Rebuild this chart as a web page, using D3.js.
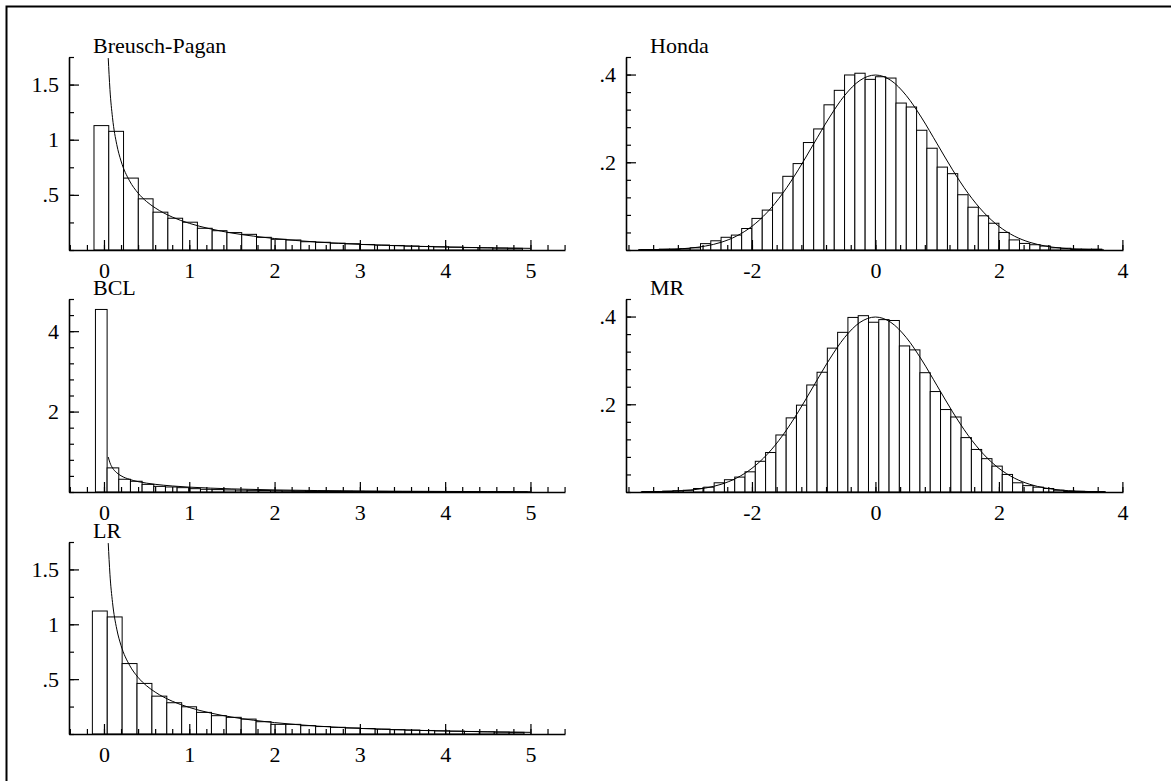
<!DOCTYPE html>
<html>
<head>
<meta charset="utf-8">
<script src="https://cdn.jsdelivr.net/npm/d3@7/dist/d3.min.js"></script>
<style>
  body { margin: 0; background: #fff; }
  svg { display: block; }
  text { font-family: "Liberation Serif", "Times New Roman", serif; font-size: 22px; fill: #000; }
</style>
</head>
<body>
<svg id="chart" width="1171" height="781"></svg>
<script>
// ---- data ----
// left column: histograms on [start + i*width, start + (i+1)*width]
var bpStart = -0.117, bpWidth = 0.1732;
var bpHeights = [1.128, 1.076, 0.652, 0.464, 0.343, 0.288, 0.252, 0.197, 0.175, 0.158,
                 0.142, 0.115, 0.097, 0.091, 0.075, 0.070, 0.062, 0.057, 0.050, 0.045,
                 0.041, 0.036, 0.032, 0.029, 0.026, 0.022, 0.020, 0.017, 0.015];

var bclStart = -0.1, bclWidth = 0.1368;
var bclHeights = [4.54, 0.60, 0.317, 0.267, 0.190, 0.140, 0.125, 0.108, 0.083, 0.067,
                  0.060, 0.052, 0.046, 0.041, 0.037, 0.033, 0.030, 0.027, 0.024, 0.022,
                  0.020, 0.018, 0.016, 0.014, 0.013, 0.012, 0.011, 0.010, 0.009, 0.008,
                  0.007, 0.006, 0.006, 0.005, 0.005, 0.004, 0.004];

var lrStart = -0.136, lrWidth = 0.1745;
var lrHeights = [1.121, 1.067, 0.642, 0.461, 0.345, 0.285, 0.248, 0.197, 0.167, 0.152,
                 0.136, 0.112, 0.088, 0.088, 0.076, 0.068, 0.061, 0.055, 0.050, 0.045,
                 0.040, 0.036, 0.032, 0.029, 0.026, 0.023, 0.020, 0.017, 0.015];

// right column
var hondaStart = -23 / 6, hondaWidth = 1 / 6;
var hondaHeights = [0.001, 0.001, 0.002, 0.002, 0.003, 0.005, 0.0145, 0.021, 0.029, 0.034,
                    0.049, 0.072, 0.091, 0.130, 0.168, 0.197, 0.245, 0.276, 0.331, 0.364,
                    0.399, 0.403, 0.389, 0.395, 0.392, 0.335, 0.326, 0.273, 0.232, 0.189,
                    0.174, 0.126, 0.0975, 0.078, 0.061, 0.040, 0.023, 0.015, 0.012, 0.009,
                    0.005, 0.004, 0.002, 0.002, 0.002];

var mrStart = -3.779, mrWidth = 1 / 6;
var mrHeights = [0.001, 0.001, 0.002, 0.003, 0.004, 0.008, 0.011, 0.021, 0.028, 0.034,
                 0.046, 0.070, 0.090, 0.130, 0.169, 0.198, 0.244, 0.273, 0.328, 0.364,
                 0.398, 0.402, 0.387, 0.393, 0.391, 0.333, 0.324, 0.272, 0.229, 0.188,
                 0.171, 0.124, 0.097, 0.076, 0.059, 0.040, 0.021, 0.0145, 0.011, 0.008,
                 0.004, 0.002, 0.0015, 0.001, 0.001];

// density curves, [x, y] points
var chiCurve = [[0.05, 1.74], [0.07, 1.456], [0.1, 1.20], [0.15, 0.956], [0.2, 0.807],
                [0.3, 0.627], [0.4, 0.516], [0.5, 0.439], [0.6, 0.382], [0.8, 0.299],
                [1.0, 0.242], [1.25, 0.191], [1.5, 0.154], [2.0, 0.104], [2.5, 0.072],
                [3.0, 0.051], [3.5, 0.037], [4.0, 0.027], [4.5, 0.020], [5.0, 0.015]];
var halfChiCurve = [[0.05, 0.87], [0.07, 0.728], [0.1, 0.60], [0.15, 0.478], [0.2, 0.404],
                    [0.3, 0.314], [0.4, 0.258], [0.5, 0.220], [0.6, 0.191], [0.8, 0.150],
                    [1.0, 0.121], [1.25, 0.096], [1.5, 0.077], [2.0, 0.052], [2.5, 0.036],
                    [3.0, 0.026], [3.5, 0.019], [4.0, 0.014], [4.5, 0.010], [5.0, 0.007]];
var normalCurve = [[-3.8, 0.0003], [-3.5, 0.0009], [-3.25, 0.002], [-3.0, 0.0044], [-2.75, 0.0091],
                   [-2.5, 0.0175], [-2.25, 0.0317], [-2.0, 0.054], [-1.75, 0.0863], [-1.5, 0.1295],
                   [-1.25, 0.1827], [-1.0, 0.242], [-0.75, 0.3011], [-0.5, 0.3521], [-0.25, 0.3867],
                   [0, 0.3989], [0.25, 0.3867], [0.5, 0.3521], [0.75, 0.3011], [1.0, 0.242],
                   [1.25, 0.1827], [1.5, 0.1295], [1.75, 0.0863], [2.0, 0.054], [2.25, 0.0317],
                   [2.5, 0.0175], [2.75, 0.0091], [3.0, 0.0044], [3.25, 0.002], [3.5, 0.0009],
                   [3.7, 0.0004]];

// axis ticks
var chiXMajor = [0, 1, 2, 3, 4, 5];
var normXMajor = [-2, 0, 2, 4];
var bpYMajor = [0.5, 1, 1.5];
var bclYMajor = [2, 4];
var normYMajor = [0.2, 0.4];

var svg = d3.select("#chart");

// outer frame
svg.append("rect")
    .attr("x", 6.5).attr("y", 6.5)
    .attr("width", 1200).attr("height", 800)
    .attr("fill", "none").attr("stroke", "#000").attr("stroke-width", 2);

var fmt = function(d){ return String(d).replace(/^0\./, "."); };

var panel = function(o){
    var x = d3.scaleLinear().domain(o.xDomain).range([o.left, o.right]),
        y = d3.scaleLinear().domain([0, o.yMax]).range([o.bottom, o.top]);

    var g = svg.append("g");

    g.selectAll("rect.bar")
        .data(o.heights)
        .join("rect")
        .attr("class", "bar")
        .attr("x", function(d, i){ return x(o.start + i * o.width); })
        .attr("width", function(d, i){ return x(o.start + (i + 1) * o.width) - x(o.start + i * o.width); })
        .attr("y", function(d){ return y(d); })
        .attr("height", function(d){ return y(0) - y(d); })
        .style("fill", "#fff")
        .style("stroke", "#000")
        .style("stroke-width", 1);

    g.append("path")
        .datum(o.curve)
        .attr("d", d3.line()
            .x(function(d){ return x(d[0]); })
            .y(function(d){ return y(d[1]); })
            .curve(d3.curveMonotoneX))
        .style("fill", "none")
        .style("stroke", "#000")
        .style("stroke-width", 1);

    // minor ticks
    g.append("g")
        .attr("transform", "translate(0," + o.bottom + ")")
        .call(d3.axisBottom(x).tickValues(o.xMinor).tickSize(-5).tickSizeOuter(0).tickFormat(""))
        .call(function(s){ s.select(".domain").remove(); });
    g.append("g")
        .attr("transform", "translate(" + o.left + ",0)")
        .call(d3.axisLeft(y).tickValues(o.yMinor).tickSize(-5).tickSizeOuter(0).tickFormat(""))
        .call(function(s){ s.select(".domain").remove(); });

    // major ticks and labels
    g.append("g")
        .attr("transform", "translate(0," + o.bottom + ")")
        .call(d3.axisBottom(x).tickValues(o.xMajor).tickSize(-10).tickSizeOuter(0).tickPadding(12).tickFormat(fmt));
    g.append("g")
        .attr("transform", "translate(" + o.left + ",0)")
        .call(d3.axisLeft(y).tickValues(o.yMajor).tickSize(-10).tickSizeOuter(0).tickPadding(10).tickFormat(fmt));

    g.selectAll(".tick line").style("stroke", "#000").style("stroke-width", 1.2);
    g.selectAll(".domain").style("stroke", "#000").style("stroke-width", 1.6);
    g.selectAll(".tick text")
        .style("font-family", "'Liberation Serif', 'Times New Roman', serif")
        .style("font-size", "22px")
        .style("fill", "#000");

    g.append("text")
        .attr("x", o.left + 24)
        .attr("y", o.top - 4)
        .text(o.title);
};

var range = function(a, b, s){
    var out = [];
    for (var v = a; v <= b + 1e-9; v += s) out.push(+v.toFixed(4));
    return out;
};

var chiXMinor = range(-0.4, 5.4, 0.2);
var normXMinor = range(-4, 4, 0.4);

var rows = [{top: 57, bottom: 250}, {top: 299, bottom: 492}, {top: 542, bottom: 734}];
var leftCol = {left: 69, right: 565, xDomain: [-0.41, 5.405]};
var rightCol = {left: 626, right: 1123, xDomain: [-4.04, 4.01]};

panel(Object.assign({}, leftCol, rows[0], {
    title: "Breusch-Pagan", start: bpStart, width: bpWidth, heights: bpHeights, curve: chiCurve,
    yMax: 1.75, yMajor: bpYMajor, yMinor: range(0, 1.75, 0.25), xMajor: chiXMajor, xMinor: chiXMinor
}));
panel(Object.assign({}, leftCol, rows[1], {
    title: "BCL", start: bclStart, width: bclWidth, heights: bclHeights, curve: halfChiCurve,
    yMax: 4.8, yMajor: bclYMajor, yMinor: range(0, 4.8, 0.4), xMajor: chiXMajor, xMinor: chiXMinor
}));
panel(Object.assign({}, leftCol, rows[2], {
    title: "LR", start: lrStart, width: lrWidth, heights: lrHeights, curve: chiCurve,
    yMax: 1.75, yMajor: bpYMajor, yMinor: range(0, 1.75, 0.25), xMajor: chiXMajor, xMinor: chiXMinor
}));
panel(Object.assign({}, rightCol, rows[0], {
    title: "Honda", start: hondaStart, width: hondaWidth, heights: hondaHeights, curve: normalCurve,
    yMax: 0.44, yMajor: normYMajor, yMinor: range(0, 0.44, 0.04), xMajor: normXMajor, xMinor: normXMinor
}));
panel(Object.assign({}, rightCol, rows[1], {
    title: "MR", start: mrStart, width: mrWidth, heights: mrHeights, curve: normalCurve,
    yMax: 0.44, yMajor: normYMajor, yMinor: range(0, 0.44, 0.04), xMajor: normXMajor, xMinor: normXMinor
}));
</script>
</body>
</html>
